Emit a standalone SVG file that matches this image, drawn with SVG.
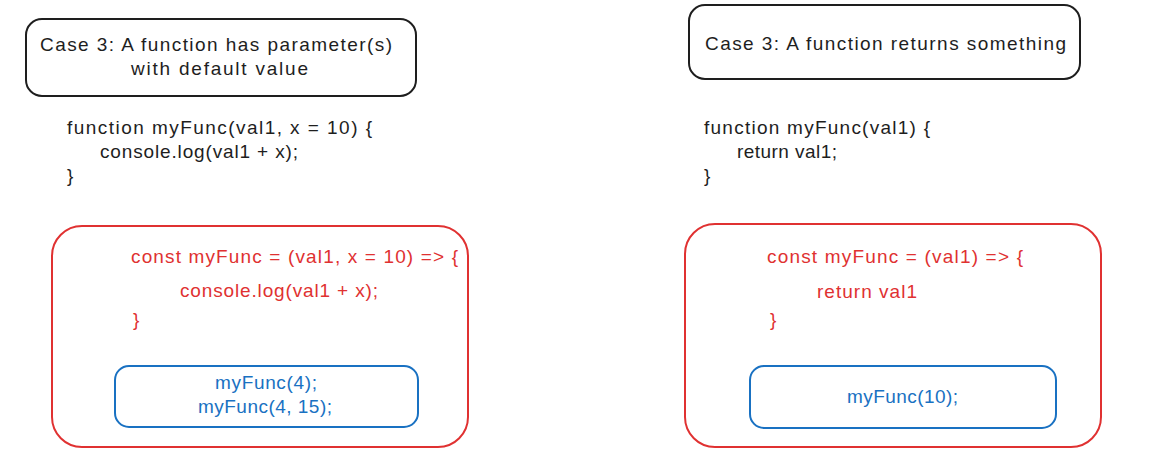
<svg xmlns="http://www.w3.org/2000/svg" width="1153" height="472" viewBox="0 0 1153 472">
<style>
text{font-family:"Liberation Sans",Arial,sans-serif;font-size:19px;}
.k{fill:#1e1e1e}
.r{fill:#e03131}
.b{fill:#1971c2}
.bk{fill:none;stroke:#1e1e1e;stroke-width:2}
.br{fill:none;stroke:#e03131;stroke-width:2}
.bb{fill:none;stroke:#1971c2;stroke-width:2}
</style>
<rect width="1153" height="472" fill="#ffffff"/>
<g id="title-left">
<rect class="bk" x="26" y="19" width="390" height="77" rx="16"/>
<text class="k" x="40" y="51" textLength="352">Case 3: A function has parameter(s)</text>
<text class="k" x="131" y="75" textLength="177">with default value</text>
</g>
<g id="code-left">
<text class="k" x="67" y="134" textLength="305">function myFunc(val1, x = 10) {</text>
<text class="k" x="100" y="158" textLength="198">console.log(val1 + x);</text>
<text class="k" x="67" y="182">}</text>
</g>
<g id="arrowfn-left">
<rect class="br" x="52" y="226" width="416" height="221" rx="30"/>
<text class="r" x="131" y="263" textLength="327">const myFunc = (val1, x = 10) =&gt; {</text>
<text class="r" x="180" y="297" textLength="198">console.log(val1 + x);</text>
<text class="r" x="133" y="326">}</text>
</g>
<g id="call-left">
<rect class="bb" x="115" y="366" width="303" height="61" rx="14"/>
<text class="b" x="215" y="389" textLength="102">myFunc(4);</text>
<text class="b" x="198" y="413" textLength="134">myFunc(4, 15);</text>
</g>
<g id="title-right">
<rect class="bk" x="689" y="5" width="391" height="74" rx="16"/>
<text class="k" x="705" y="50" textLength="361">Case 3: A function returns something</text>
</g>
<g id="code-right">
<text class="k" x="704" y="134" textLength="226">function myFunc(val1) {</text>
<text class="k" x="737" y="158" textLength="100">return val1;</text>
<text class="k" x="704" y="182">}</text>
</g>
<g id="arrowfn-right">
<rect class="br" x="685" y="224" width="416" height="223" rx="30"/>
<text class="r" x="767" y="263" textLength="256">const myFunc = (val1) =&gt; {</text>
<text class="r" x="817" y="298" textLength="100">return val1</text>
<text class="r" x="770" y="326">}</text>
</g>
<g id="call-right">
<rect class="bb" x="750" y="366" width="306" height="62" rx="14"/>
<text class="b" x="847" y="403" textLength="111">myFunc(10);</text>
</g>
<g id="connectors"></g>
</svg>
